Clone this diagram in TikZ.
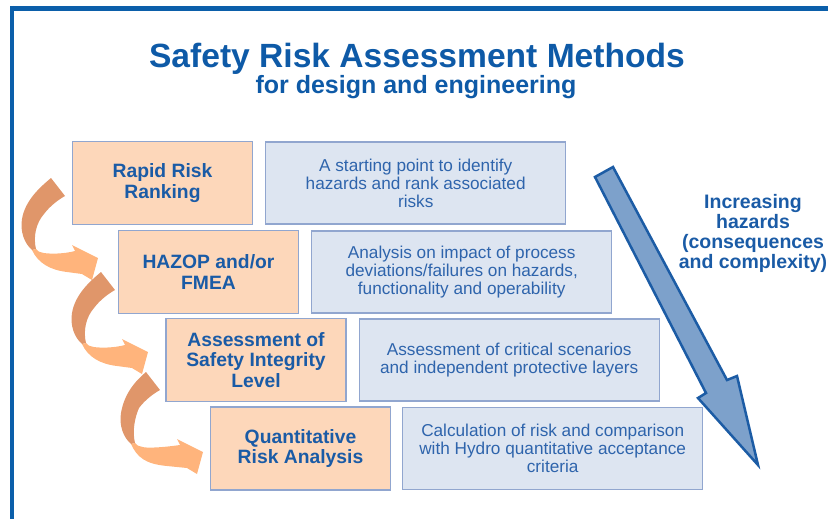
\documentclass[tikz,border=0pt]{standalone}
\usepackage{fontspec}
\setmainfont{Liberation Sans}
\usetikzlibrary{positioning,calc}

\definecolor{framebl}{HTML}{0B5FAA}
\definecolor{titlebl}{HTML}{0E5AA7}
\definecolor{labelbl}{HTML}{1A5BA6}
\definecolor{descbl}{HTML}{2E64AC}
\definecolor{peach}{HTML}{FDD7BA}
\definecolor{paleblue}{HTML}{DDE5F1}
\definecolor{boxline}{HTML}{91A6CF}
\definecolor{backorange}{HTML}{E0966A}
\definecolor{frontorange}{HTML}{FFB47C}
\definecolor{arrowfill}{HTML}{7DA1CB}
\definecolor{arrowline}{HTML}{1C5CA5}

\begin{document}
\begin{tikzpicture}[x=1pt,y=-1pt,
  method/.style={draw=boxline,fill=peach,line width=1.2pt,
    minimum width=180pt,minimum height=83pt,align=center,
    text=labelbl,font=\fontsize{19.3}{20.5}\selectfont\bfseries},
  descbox/.style={draw=boxline,fill=paleblue,line width=1.2pt,
    minimum width=300pt,minimum height=82pt,align=center,
    text=descbl,font=\fontsize{17.2}{18}\selectfont},
  heading/.style={text=titlebl,font=\fontsize{33.6}{36}\selectfont\bfseries},
  subheading/.style={text=titlebl,font=\fontsize{25}{28}\selectfont\bfseries},
  sidenote/.style={text=labelbl,align=center,font=\fontsize{19.5}{20}\selectfont\bfseries}
]

\useasboundingbox (0,0) rectangle (828,519);
\clip (0,0) rectangle (828,519);

% frame
\draw[framebl,line width=5pt] (10,8.5) -- (900,8.5);
\draw[framebl,line width=4pt] (12,6) -- (12,600);

% titles
\node[heading] (title) at (417,58.5) {Safety Risk Assessment Methods};
\node[subheading] (subtitle) at (416,87) {for design and engineering};

% curved arrows between the steps
\foreach \ax/\ay/\lx/\hx in {58/187/0/0,108/281/0/0,153/381/4/10}{
  \begin{scope}[shift={(\ax,\ay)}]
    \fill[backorange] (-7,-9) .. controls (-19,1) and (-33+\lx,14) .. (-36+\lx,32)
      .. controls (-38+\lx,44) and (-34+\lx,56) .. (-26+\lx,63) -- (-22+\lx,62)
      .. controls (-25+\lx,50) and (-22+\lx,36) .. (-14,27)
      .. controls (-8,19) and (0,13) .. (7,9) -- cycle;
    \fill[frontorange] (-26+\lx,63) .. controls (-20+\lx,76) and (-8,83) .. (9+\hx/2,85)
      -- (24+\hx,87) -- (34+\hx,93) -- (40+\hx,71) -- (14+\hx,58) -- (17+\hx,64)
      .. controls (6,67) and (-8,67) .. (-14+\lx,66)
      .. controls (-19+\lx,65) and (-21+\lx,64) .. (-22+\lx,62) -- cycle;
  \end{scope}
}

% method boxes
\node[method] (rrr) at (162.5,183) {Rapid Risk\\Ranking};
\node[method] (hazop) at (208.5,272) {HAZOP and/or\\FMEA};
\node[method] (sil) at (256,360) {Assessment of\\Safety Integrity\\Level};
\node[method] (qra) at (300.5,448.5) {Quantitative\\Risk Analysis};

% descriptions
\node[descbox,right=12pt of rrr] (rrrtext)
  {A starting point to identify\\hazards and rank associated\\risks};
\node[descbox,right=12pt of hazop] (hazoptext)
  {Analysis on impact of process\\deviations/failures on hazards,\\functionality and operability};
\node[descbox,right=12pt of sil] (siltext)
  {Assessment of critical scenarios\\and independent protective layers};
\node[descbox,right=11pt of qra] (qratext)
  {Calculation of risk and comparison\\with Hydro quantitative acceptance\\criteria};

% big arrow
\draw[arrowline,fill=arrowfill,line width=2.5pt,line join=miter]
  (595,177) -- (613,167) -- (727,380) -- (737,376) -- (758,465)
  -- (698,398) -- (706,393) -- cycle;
\node[sidenote] (trend) at (753,233)
  {Increasing\\hazards\\(consequences\\and complexity)};

\end{tikzpicture}
\end{document}
